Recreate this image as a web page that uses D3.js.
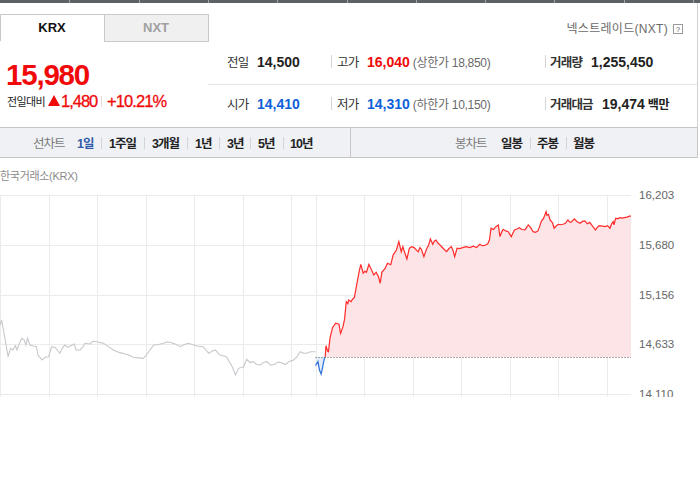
<!DOCTYPE html>
<html>
<head>
<meta charset="utf-8">
<title>KRX 1일 차트</title>
<script src="https://cdnjs.cloudflare.com/ajax/libs/d3/7.8.5/d3.min.js"></script>
<style>
  body { margin: 0; background: #fff; }
  svg { display: block; font-family: 'Liberation Sans', 'Noto Sans CJK KR', sans-serif; }
</style>
</head>
<body>
<svg id="svg" width="700" height="490"></svg>
<script>
// 전일 (grey) and 당일 price series
const prevTimes = ["09:00","09:02","09:05","09:10","09:13","09:16","09:19","09:21","09:24","09:27","09:30","09:32","09:34","09:37","09:41","09:45","09:47","09:52","09:56","10:00","10:04","10:08","10:11","10:14","10:17","10:20","10:24","10:27","10:32","10:34","10:39","10:42","10:45","10:51","10:55","11:00","11:04","11:08","11:14","11:20","11:28","11:33","11:39","11:45","11:51","11:57","12:01","12:10","12:16","12:22","12:27","12:32","12:38","12:43","12:48","12:53","13:03","13:11","13:18","13:22","13:26","13:32","13:40","13:47","13:51","13:55","14:01","14:05","14:09","14:13","14:17","14:22","14:26","14:30","14:35","14:40","14:44","14:48","14:53","14:57","15:03","15:07","15:11","15:15","15:19","15:24","15:30"];
const prevPrices = [14836,14888,14748,14502,14590,14573,14618,14573,14643,14696,14678,14625,14696,14625,14615,14608,14520,14468,14496,14502,14608,14600,14570,14538,14590,14625,14600,14615,14636,14573,14573,14600,14643,14636,14665,14660,14650,14643,14608,14573,14545,14535,14520,14496,14490,14485,14520,14625,14630,14643,14660,14650,14630,14608,14630,14643,14615,14608,14538,14560,14573,14520,14502,14397,14310,14380,14397,14475,14440,14450,14420,14415,14445,14450,14410,14425,14445,14438,14420,14450,14468,14500,14555,14540,14538,14555,14555];
const todayTimes = ["09:00","09:03","09:05","09:07","09:09","09:11","09:12","09:13","09:15","09:16","09:18","09:21","09:25","09:29","09:31","09:34","09:36","09:38","09:40","09:41","09:44","09:46","09:48","09:52","09:54","09:56","09:59","10:01","10:03","10:06","10:09","10:12","10:15","10:18","10:20","10:22","10:26","10:29","10:33","10:36","10:40","10:43","10:46","10:48","10:49","10:51","10:53","10:56","10:59","11:02","11:05","11:07","11:09","11:11","11:14","11:17","11:20","11:22","11:25","11:27","11:29","11:31","11:33","11:38","11:42","11:45","11:48","11:50","11:52","11:55","11:58","12:02","12:06","12:11","12:15","12:19","12:23","12:26","12:29","12:33","12:35","12:37","12:40","12:43","12:46","12:48","12:50","12:52","12:55","12:58","13:02","13:04","13:06","13:09","13:12","13:15","13:19","13:23","13:26","13:29","13:32","13:35","13:37","13:39","13:42","13:45","13:46","13:48","13:50","13:53","13:55","13:58","14:00","14:03","14:06","14:09","14:12","14:14","14:16","14:18","14:20","14:23","14:27","14:30","14:33","14:36","14:39","14:42","14:44","14:46","14:49","14:51","14:55","14:58","15:01","15:04","15:06","15:08","15:09","15:11","15:14","15:16","15:19","15:22","15:25","15:28","15:30"];
const todayPrices = [14410,14450,14360,14320,14400,14485,14500,14618,14560,14555,14700,14808,14854,14845,14748,14818,14900,15081,15060,15099,15081,15110,15123,15309,15400,15474,15380,15400,15390,15474,15420,15362,15390,15340,15275,15390,15430,15485,15470,15572,15625,15712,15607,15660,15630,15580,15530,15643,15660,15650,15620,15607,15650,15630,15554,15630,15680,15741,15685,15720,15730,15700,15685,15640,15607,15640,15660,15620,15554,15643,15640,15650,15660,15650,15665,15650,15685,15670,15672,15690,15730,15853,15840,15870,15888,15765,15810,15842,15825,15820,15765,15800,15836,15845,15859,15840,15836,15888,15860,15817,15810,15825,15870,15923,15960,16028,15990,16000,15941,15910,15853,15880,15895,15890,15895,15905,15941,15920,15915,15935,15952,15925,15906,15925,15930,15900,15915,15880,15860,15835,15870,15880,15875,15870,15880,15853,15900,15923,15890,15958,15955,15965,15960,15965,15970,15980,15980];
const prevClose = 14500;
const yTicks = [14110, 14633, 15156, 15680, 16203];
const hourTicks = ["09:00","10:00","11:00","12:00","13:00","14:00","15:00"];

// header texts
const marketTabs = ["KRX", "NXT"];
const curPrice = "15,980";
const change = "1,480";
const changeRate = "+10.21%";
const infoLabels = ["전일", "고가", "거래량", "시가", "저가", "거래대금"];
const infoValues = ["14,500", "16,040", "1,255,450", "14,410", "14,310", "19,474"];
const infoNotes = ["", "(상한가 18,850)", "", "", "(하한가 10,150)", "백만"];
const lineTabs = ["1일", "1주일", "3개월", "1년", "3년", "5년", "10년"];
const candleTabs = ["일봉", "주봉", "월봉"];

const RED = "#f00a0a", BLUE = "#0f5fd8";
const svg = d3.select("#svg");

// top dark strip
svg.append("rect").attr("width", 700).attr("height", 3).attr("fill", "#5d6066");
d3.range(1, 11).forEach(k => {
  svg.append("rect").attr("x", Math.round(k * 69.3)).attr("width", 1).attr("height", 3).attr("fill", "#a3a5a9");
});
svg.append("line").attr("x1", 697.5).attr("x2", 697.5).attr("y1", 3).attr("y2", 157).attr("stroke", "#d0d0d0");

// KRX / NXT tabs
svg.append("rect").attr("x", 104.5).attr("y", 14.5).attr("width", 104).attr("height", 27)
  .attr("fill", "#f0f0f0").attr("stroke", "#c9c9c9");
svg.append("path").attr("d", "M0.5,41 V14.5 H104.5 V41").attr("fill", "none").attr("stroke", "#c9c9c9");
svg.selectAll(".mtab").data(marketTabs).join("text")
  .attr("x", (d, i) => 52 + i * 104).attr("y", 32).attr("text-anchor", "middle")
  .attr("font-size", 13).attr("font-weight", "bold")
  .attr("fill", (d, i) => i === 0 ? "#111" : "#a0a0a0").text(d => d);

svg.append("text").attr("x", 668).attr("y", 33).attr("text-anchor", "end")
  .attr("font-size", 12).attr("fill", "#6a6a6a").attr("letter-spacing", "0.3px").text("넥스트레이드(NXT)");
svg.append("rect").attr("x", 673.5).attr("y", 24.5).attr("width", 9).attr("height", 9)
  .attr("fill", "#fff").attr("stroke", "#999");
svg.append("text").attr("x", 678).attr("y", 32).attr("text-anchor", "middle")
  .attr("font-size", 8).attr("fill", "#666").text("?");

// current price
svg.append("text").attr("x", 6).attr("y", 85).attr("font-size", 29.5).attr("font-weight", "bold")
  .attr("letter-spacing", "-1.2px").attr("fill", RED).text(curPrice);
svg.append("text").attr("x", 7).attr("y", 106).attr("font-size", 11).attr("letter-spacing", "-0.6px")
  .attr("fill", "#222").text("전일대비");
svg.append("path").attr("d", "M48,106 L54,95 L60,106 Z").attr("fill", RED);
svg.append("text").attr("x", 61).attr("y", 107).attr("font-size", 16.5).attr("letter-spacing", "-1px")
  .attr("fill", RED).attr("stroke", RED).attr("stroke-width", 0.3).text(change);
svg.append("line").attr("x1", 101.5).attr("x2", 101.5).attr("y1", 96).attr("y2", 107).attr("stroke", "#ddd");
svg.append("text").attr("x", 107).attr("y", 107).attr("font-size", 16.5).attr("letter-spacing", "-0.9px")
  .attr("fill", RED).attr("stroke", RED).attr("stroke-width", 0.3).text(changeRate);

// info table
const colLabelX = [227, 337, 550], colValueX = [257, 367, 591], rowY = [67, 109];
const valueColor = [ "#222", RED, "#222", BLUE, BLUE, "#222" ];
infoLabels.forEach((lab, i) => {
  const c = i % 3, r = Math.floor(i / 3);
  svg.append("text").attr("x", colLabelX[c]).attr("y", rowY[r]).attr("font-size", 12.5)
    .attr("letter-spacing", "-0.8px").attr("fill", "#333")
    .attr("font-weight", c === 2 ? "bold" : "normal").text(lab);
  const vx = (c === 2 && r === 1) ? 602 : colValueX[c];
  const v = svg.append("text").attr("x", vx).attr("y", rowY[r]).attr("font-size", 14)
    .attr("font-weight", "bold").attr("fill", valueColor[i]).text(infoValues[i]);
  if (infoNotes[i]) {
    const w = v.node().getComputedTextLength();
    svg.append("text").attr("x", vx + w + 3).attr("y", rowY[r]).attr("font-size", 12)
      .attr("letter-spacing", "-0.3px")
      .attr("fill", c === 2 ? "#222" : "#6a6a6a").attr("font-weight", c === 2 ? "bold" : "normal")
      .text(infoNotes[i]);
  }
});
[331.5, 545.5].forEach(sx => rowY.forEach(ry => {
  svg.append("line").attr("x1", sx).attr("x2", sx).attr("y1", ry - 12).attr("y2", ry + 1).attr("stroke", "#d5d5d5");
}));
svg.append("line").attr("x1", 208).attr("x2", 697).attr("y1", 84.5).attr("y2", 84.5).attr("stroke", "#e6e6e6");

// chart-type bar
svg.append("rect").attr("x", -1).attr("y", 127.5).attr("width", 698.5).attr("height", 30)
  .attr("fill", "#eff1f5").attr("stroke", "#c6c6c6");
svg.append("line").attr("x1", 350.5).attr("x2", 350.5).attr("y1", 128).attr("y2", 157).attr("stroke", "#c6c6c6");

function tabRow(titleX, title, items, itemX, sepX, activeIdx) {
  svg.append("text").attr("x", titleX).attr("y", 148).attr("font-size", 12.5)
    .attr("letter-spacing", "-1px").attr("fill", "#7a7a7a").text(title);
  items.forEach((d, i) => {
    svg.append("text").attr("x", itemX[i]).attr("y", 148).attr("font-size", 12.5)
      .attr("font-weight", "bold").attr("letter-spacing", "-1px")
      .attr("fill", i === activeIdx ? "#2f5aa8" : "#222").text(d);
  });
  sepX.forEach(s => {
    svg.append("line").attr("x1", s + 0.5).attr("x2", s + 0.5).attr("y1", 137).attr("y2", 149).attr("stroke", "#d2d4d8");
  });
}
tabRow(33, "선차트", lineTabs, [77, 109, 152, 195, 227, 258, 290], [101, 144, 187, 219, 250, 283], 0);
tabRow(455, "봉차트", candleTabs, [501, 537, 573], [530, 566], -1);

svg.append("text").attr("x", 0).attr("y", 180).attr("font-size", 11).attr("fill", "#8a8a8a")
  .attr("letter-spacing", "-0.3px").text("한국거래소(KRX)");

// ---- chart ----
const toIdx = (t, day) => { const [h, m] = t.split(":").map(Number); return day * 390 + (h - 9) * 60 + m; };
const prevData = prevTimes.map((t, i) => ({ i: toIdx(t, 0), p: prevPrices[i] }));
const todayData = todayTimes.map((t, i) => ({ i: toIdx(t, 1), p: todayPrices[i] }));

const x = d3.scaleLinear().domain([0, 780]).range([0, 631]);
const y = d3.scaleLinear().domain([yTicks[0], yTicks[yTicks.length - 1]]).range([394, 195]);

const defs = svg.append("defs");
defs.append("clipPath").attr("id", "chartClip").append("rect")
  .attr("x", 0).attr("y", 160).attr("width", 700).attr("height", 237);
defs.append("clipPath").attr("id", "upClip").append("rect")
  .attr("x", 0).attr("y", 160).attr("width", 700).attr("height", y(prevClose) - 160);
defs.append("clipPath").attr("id", "downClip").append("rect")
  .attr("x", 0).attr("y", y(prevClose)).attr("width", 700).attr("height", 400 - y(prevClose));

const g = svg.append("g").attr("clip-path", "url(#chartClip)");

// grid
g.selectAll(".hg").data(yTicks).join("line")
  .attr("x1", 0).attr("x2", 631).attr("y1", d => Math.round(y(d)) + 0.5).attr("y2", d => Math.round(y(d)) + 0.5)
  .attr("stroke", "#ebebeb");
const vTicks = hourTicks.map(t => toIdx(t, 0)).concat(hourTicks.map(t => toIdx(t, 1)));
g.selectAll(".vg").data(vTicks).join("line")
  .attr("x1", d => Math.round(x(d)) + 0.5).attr("x2", d => Math.round(x(d)) + 0.5)
  .attr("y1", 195).attr("y2", 397).attr("stroke", "#ebebeb");

const yAxis = d3.axisRight(y).tickValues(yTicks).tickSize(0).tickPadding(8).tickFormat(d3.format(","));
const ya = g.append("g").attr("transform", "translate(631,0)").call(yAxis);
ya.select(".domain").remove();
ya.selectAll("text").attr("font-size", 11.5).attr("fill", "#666")
  .attr("font-family", "'Liberation Sans', sans-serif");

const line = d3.line().x(d => x(d.i)).y(d => y(d.p));
const area = d3.area().x(d => x(d.i)).y0(y(prevClose)).y1(d => y(d.p));

g.append("path").datum(prevData).attr("d", line).attr("fill", "none")
  .attr("stroke", "#c6c8cc").attr("stroke-width", 1.1);

g.append("path").datum(todayData).attr("d", area).attr("fill", "#fde4e6").attr("clip-path", "url(#upClip)");
g.append("path").datum(todayData).attr("d", area).attr("fill", "#e2ecfa").attr("clip-path", "url(#downClip)");

g.append("line").attr("x1", x(390)).attr("x2", x(780)).attr("y1", Math.round(y(prevClose)) + 0.5)
  .attr("y2", Math.round(y(prevClose)) + 0.5).attr("stroke", "#555").attr("stroke-dasharray", "1,2");

g.append("path").datum(todayData).attr("d", line).attr("fill", "none")
  .attr("stroke", "#ff2a2a").attr("stroke-width", 1.2).attr("clip-path", "url(#upClip)");
g.append("path").datum(todayData).attr("d", line).attr("fill", "none")
  .attr("stroke", "#2a6fd8").attr("stroke-width", 1.2).attr("clip-path", "url(#downClip)");
</script>
</body>
</html>
